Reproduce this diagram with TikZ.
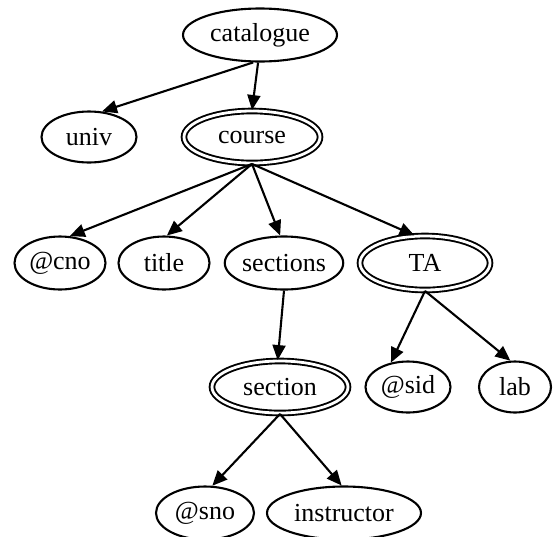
\documentclass[tikz,border=0pt]{standalone}
\usepackage{fontspec}
\setmainfont{Liberation Serif}
\usetikzlibrary{shapes.geometric,arrows.meta}
\begin{document}
\begin{tikzpicture}[x=1pt,y=-1pt,
  elem/.style={ellipse, draw, line width=2.1pt, inner sep=0pt,
    font=\fontsize{26}{30}\selectfont},
  setelem/.style={elem, line width=1.9pt, double, double distance=2.8pt},
  edge/.style={line width=2.1pt, -{Triangle[length=15pt,width=13pt]}}]
\useasboundingbox (0,0) rectangle (553,536);
% element nodes
\node[elem, minimum width=154pt, minimum height=53pt] (catalogue) at (260,35) {catalogue};
\node[elem, minimum width=95pt, minimum height=51pt] (univ) at (89,137) {univ};
\node[setelem, minimum width=136pt, minimum height=52pt] (course) at (252,137) {course};
\node[elem, minimum width=91pt, minimum height=53pt] (cno) at (60,263) {@cno};
\node[elem, minimum width=91pt, minimum height=53pt] (title) at (164,263) {title};
\node[elem, minimum width=116pt, minimum height=53pt] (sections) at (284,263) {sections};
\node[setelem, minimum width=130pt, minimum height=54pt] (TA) at (425,263) {TA};
\node[setelem, minimum width=136pt, minimum height=52pt] (section) at (280,387) {section};
\node[elem, minimum width=85pt, minimum height=51pt] (sid) at (408,387) {@sid};
\node[elem, minimum width=72pt, minimum height=51pt] (lab) at (515,387) {lab};
\node[elem, minimum width=98pt, minimum height=53pt] (sno) at (205,513) {@sno};
\node[elem, minimum width=154pt, minimum height=53pt] (instructor) at (344,513) {instructor};
% containment edges
\draw[edge] (catalogue.256) -- (univ.63);
\draw[edge] (catalogue.266) -- (course.90);
\draw[edge] (course.270) -- (cno.70);
\draw[edge] (course.270) -- (title.84);
\draw[edge] (course.270) -- (sections.98);
\draw[edge] (course.270) -- (TA.111);
\draw[edge] (sections.270) -- (section.95);
\draw[edge] (TA.270) -- (sid.125);
\draw[edge] (TA.270) -- (lab.100);
\draw[edge] (section.270) -- (sno.75);
\draw[edge] (section.270) -- (instructor.95);
\end{tikzpicture}
\end{document}
